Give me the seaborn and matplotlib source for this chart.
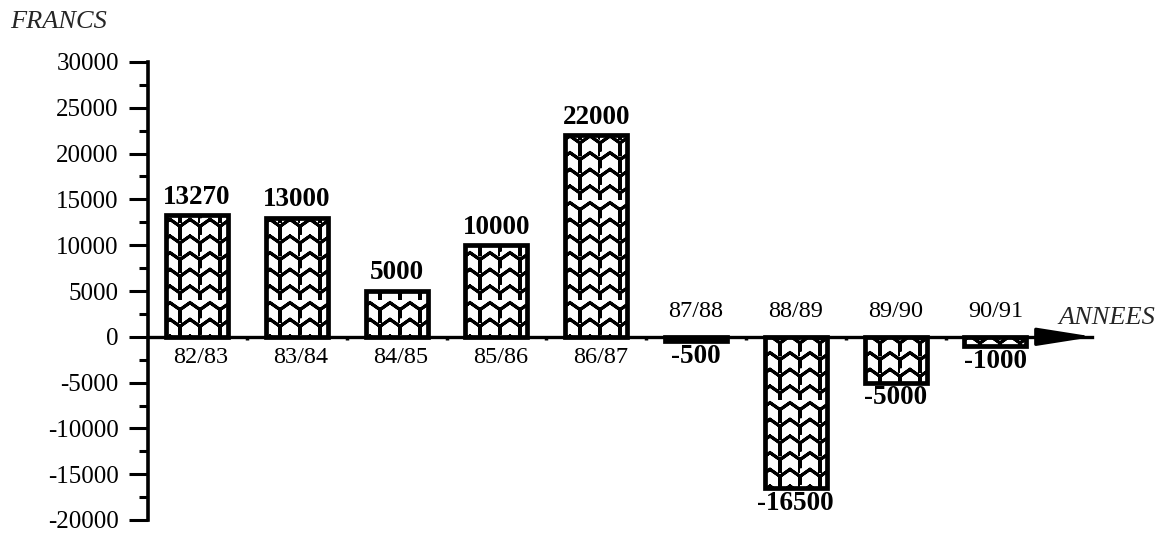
import numpy as np
import pandas as pd
import matplotlib
matplotlib.use("Agg")
import matplotlib.pyplot as plt
import matplotlib.hatch as mhatch
from matplotlib.path import Path
from matplotlib.ticker import MultipleLocator
import seaborn as sns

# Yearly balance, in francs
seasons = ["82/83", "83/84", "84/85", "85/86", "86/87", "87/88", "88/89", "89/90", "90/91"]
balance = [13270, 13000, 5000, 10000, 22000, -500, -16500, -5000, -1000]
y_ticks = [30000, 25000, 20000, 15000, 10000, 5000, 0, -5000, -10000, -15000, -20000]


class ArchHatch(mhatch.HatchPatternBase):
    """Rows of pointed arches on stems, selected with the 'z' hatch code.

    Each row is traced forward and then back along the same points so the
    path encloses no area and is only stroked.
    """
    periods = 5

    def __init__(self, hatch, density):
        self.num_rows = int(hatch.count("z") * density)
        self.row_pts = 1 + 4 * self.periods
        self.num_vertices = self.num_rows * (2 * self.row_pts - 1)

    def set_vertices_and_codes(self, vertices, codes):
        p = 1.0 / self.periods
        h = 1.0 / self.num_rows
        stem, rise = 0.42 * h, 0.42 * h
        idx = 0
        for r in range(self.num_rows):
            y0 = r * h
            pts = [(0.0, y0)]
            for k in range(self.periods):
                x = k * p
                pts += [(x, y0 + stem), (x + p / 2, y0 + stem + rise),
                        (x + p, y0 + stem), (x + p, y0)]
            full = pts + pts[-2::-1]
            for j, pt in enumerate(full):
                vertices[idx] = pt
                codes[idx] = Path.MOVETO if j == 0 else Path.LINETO
                idx += 1


mhatch._hatch_types.append(ArchHatch)
_orig_validate = mhatch._validate_hatch_pattern
mhatch._validate_hatch_pattern = lambda h: _orig_validate(h.replace("z", "")) if h else None

sns.set_theme(style="white")
plt.rcParams["font.family"] = ["Liberation Serif", "DejaVu Serif"]
plt.rcParams["hatch.linewidth"] = 2.2
plt.rcParams["hatch.color"] = "black"

W, H = 1161, 533
fig = plt.figure(figsize=(W / 100, H / 100), dpi=100)
fig.patch.set_facecolor("white")

# Axes placement (pixel geometry)
x0_px, step_px = 197, 99.8
left_px, right_px = 148, 1092
top_px, bot_px = 62, 520
ax = fig.add_axes([left_px / W, 1 - bot_px / H, (right_px - left_px) / W, (bot_px - top_px) / H])
ax.set_facecolor("white")

df = pd.DataFrame({"season": seasons, "balance": balance})
sns.barplot(data=df, x="season", y="balance", color="white", edgecolor="black",
            linewidth=3.4, width=0.62, saturation=1, ax=ax, zorder=3)
for bar in ax.patches:
    bar.set_hatch("z")
    bar.set_facecolor("white")
    bar.set_edgecolor("black")

ax.set_xlim((left_px - x0_px) / step_px, (right_px - x0_px) / step_px)
ax.set_ylim(-20000, 30000)
ax.set_xlabel("")
ax.set_ylabel("")

for s in ["top", "right"]:
    ax.spines[s].set_visible(False)
ax.spines["left"].set_linewidth(2.6)
ax.spines["left"].set_color("black")
ax.spines["bottom"].set_position(("data", 0))
ax.spines["bottom"].set_linewidth(2.4)
ax.spines["bottom"].set_color("black")
ax.spines["bottom"].set_zorder(4)

# y axis ticks
ax.set_yticks(y_ticks)
ax.set_yticklabels([str(v) for v in y_ticks], fontsize=18)
ax.yaxis.set_minor_locator(MultipleLocator(2500))
ax.tick_params(axis="y", which="major", direction="out", length=14, width=2.2,
               color="black", pad=7, labelcolor="black", left=True)
ax.tick_params(axis="y", which="minor", direction="out", length=6.5, width=2.2,
               color="black", left=True)

# x axis: small ticks between seasons, labels drawn by hand
ax.set_xticks([])
ax.set_xticks(np.arange(len(seasons) - 1) + 0.5, minor=True)
ax.tick_params(axis="x", which="minor", direction="out", length=2.5, width=2.5,
               color="black", bottom=True)

ax.annotate("", xy=((1094 - x0_px) / step_px, 0), xytext=(8.5, 0),
            arrowprops=dict(arrowstyle="-|>,head_length=1.9,head_width=0.3",
                            lw=2.4, color="black", mutation_scale=18,
                            shrinkA=0, shrinkB=0),
            zorder=5, annotation_clip=False)

for i, (lab, v) in enumerate(zip(seasons, balance)):
    if v >= 0:
        ax.annotate(lab, (i, 0), xytext=(3, -7), textcoords="offset points",
                    ha="center", va="top", fontsize=17.5, color="black")
        ax.annotate(str(v), (i, v), xytext=(0, 4), textcoords="offset points",
                    ha="center", va="bottom", fontsize=19.5, fontweight="bold", color="black")
    else:
        ax.annotate(lab, (i, 0), xytext=(0, 11), textcoords="offset points",
                    ha="center", va="bottom", fontsize=17.5, color="black")
        ax.annotate(str(v), (i, v), xytext=(0, -2), textcoords="offset points",
                    ha="center", va="top", fontsize=19.5, fontweight="bold", color="black")

fig.text(10 / W, 1 - 22 / H, "FRANCS", fontsize=19, style="italic", ha="left", va="center")
fig.text(1058 / W, 1 - 318 / H, "ANNEES", fontsize=19, style="italic", ha="left", va="center")

fig.savefig("out.png", dpi=100, facecolor="white")
